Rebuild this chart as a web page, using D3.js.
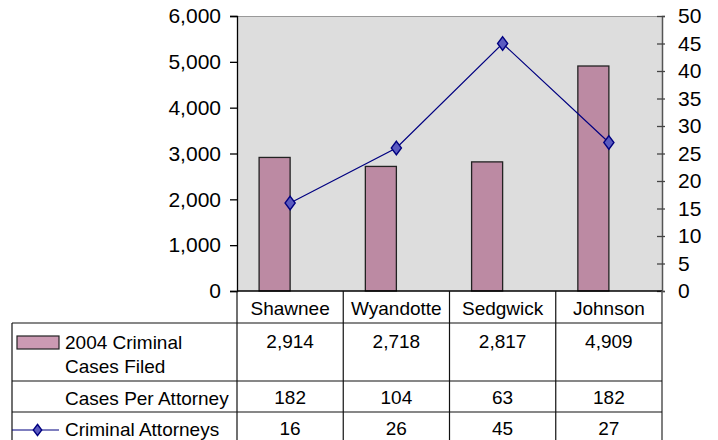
<!DOCTYPE html>
<html><head><meta charset="utf-8">
<script src="https://cdn.jsdelivr.net/npm/d3@7"></script>
<style>body{margin:0;background:#fff}svg{display:block}text{font-family:"Liberation Sans",Arial,sans-serif;fill:#000}</style>
</head><body>
<svg id="c" width="718" height="440"></svg>
<script>
const categories = ["Shawnee","Wyandotte","Sedgwick","Johnson"];
const casesFiled = [2914,2718,2817,4909];
const casesPerAttorney = [182,104,63,182];
const criminalAttorneys = [16,26,45,27];
const leftTicks = [0,1000,2000,3000,4000,5000,6000];
const rightTicks = [0,5,10,15,20,25,30,35,40,45,50];
const seriesNames = [["2004 Criminal","Cases Filed"],["Cases Per Attorney"],["Criminal Attorneys"]];

const svg = d3.select("#c");
const L=237,R=662,T=16,B=291;
const x = d3.scaleBand().domain(categories).range([L,R]).padding(0);
const yL = d3.scaleLinear().domain([0,6000]).range([B,T]);
const yR = d3.scaleLinear().domain([0,50]).range([B,T]);
const fmt = d3.format(",");

svg.append("rect").attr("x",L).attr("y",T).attr("width",R-L).attr("height",B-T).attr("fill","#dddddd");
svg.append("line").attr("x1",L).attr("x2",R).attr("y1",T+0.5).attr("y2",T+0.5).attr("stroke","#999").attr("stroke-width",1);

// bars
const bw = x.bandwidth()*0.292;
svg.append("g").selectAll("rect").data(categories).join("rect")
  .attr("x",(d)=>x(d)+x.bandwidth()/2-bw)
  .attr("y",(d,i)=>yL(casesFiled[i]))
  .attr("width",bw)
  .attr("height",(d,i)=>B-yL(casesFiled[i]))
  .attr("fill","#bc8aa3").attr("stroke","#222").attr("stroke-width",1.3);

// left axis
const gl = svg.append("g").attr("transform",`translate(${L},0)`)
  .call(d3.axisLeft(yL).tickValues(leftTicks).tickFormat(fmt).tickSize(7).tickPadding(9));
gl.select(".domain").attr("stroke","#000").attr("stroke-width",1.3);
gl.selectAll(".tick line").attr("stroke","#000").attr("stroke-width",1.3);
gl.selectAll("text").attr("font-size","21px").attr("fill","#000").attr("font-family","Liberation Sans, Arial, sans-serif");

// right axis
const gr = svg.append("g").attr("transform",`translate(${R},0)`)
  .call(d3.axisRight(yR).tickValues(rightTicks).tickSize(3).tickPadding(13));
gr.select(".domain").attr("stroke","#555").attr("stroke-width",1.5);
gr.selectAll(".tick line").attr("x1",-5).attr("stroke","#444").attr("stroke-width",1.3);
gr.selectAll("text").attr("font-size","21px").attr("fill","#000").attr("font-family","Liberation Sans, Arial, sans-serif");

// line
const cx = d=>x(d)+x.bandwidth()/2;
const line = d3.line().x((d,i)=>cx(categories[i])).y(d=>yR(d));
svg.append("path").datum(criminalAttorneys).attr("d",line).attr("fill","none").attr("stroke","#000080").attr("stroke-width",1.2);
const diamond = d3.symbol().type(d3.symbolDiamond).size(52);
svg.append("g").selectAll("path").data(criminalAttorneys).join("path")
  .attr("d",diamond)
  .attr("transform",(d,i)=>`translate(${cx(categories[i])},${yR(d)}) scale(1.3,1)`)
  .attr("fill","#5a5ac0").attr("stroke","#000080").attr("stroke-width",1.2);

// bottom axis line
svg.append("line").attr("x1",L).attr("x2",R).attr("y1",B).attr("y2",B).attr("stroke","#000").attr("stroke-width",1.3);

// data table
const rows = [323, 381, 412, 446];
const tg = svg.append("g").attr("stroke","#111").attr("stroke-width",1.2);
const bounds = categories.map(c=>x(c)).concat([R]);
bounds.forEach((bx,i)=>{
  tg.append("line").attr("x1",bx).attr("x2",bx).attr("y1",B).attr("y2",440)
   .attr("stroke", i===bounds.length-1?"#555":"#111").attr("stroke-width", i===bounds.length-1?1.5:1.2);
});
tg.append("line").attr("x1",12).attr("x2",12).attr("y1",rows[0]).attr("y2",440);
rows.slice(0,3).forEach(ry=>{
  tg.append("line").attr("x1",12).attr("x2",R).attr("y1",ry).attr("y2",ry);
});

const tfs = "19px";
svg.append("g").selectAll("text").data(categories).join("text")
  .attr("x",d=>cx(d)).attr("y",308).attr("dy","0.35em").attr("text-anchor","middle").attr("font-size",tfs).text(d=>d);

const rowY = [341, 397, 428];
[casesFiled, casesPerAttorney, criminalAttorneys].forEach((arr,r)=>{
  svg.append("g").selectAll("text").data(arr).join("text")
    .attr("x",(d,i)=>cx(categories[i])).attr("y",rowY[r]).attr("dy","0.35em")
    .attr("text-anchor","middle").attr("font-size",tfs).text(d=>fmt(d));
});

const labelY = [[342,366],[398],[429]];
seriesNames.forEach((lines,r)=>{
  lines.forEach((t,k)=>{
    svg.append("text").attr("x",65).attr("y",labelY[r][k]).attr("dy","0.35em").attr("font-size",tfs).text(t);
  });
});
// legend keys
svg.append("rect").attr("x",17).attr("y",336).attr("width",42).attr("height",13)
  .attr("fill","#cc9ab3").attr("stroke","#222").attr("stroke-width",1.2);
svg.append("line").attr("x1",12).attr("x2",59).attr("y1",430).attr("y2",430).attr("stroke","#000080").attr("stroke-width",1.2);
svg.append("path").attr("d",d3.symbol().type(d3.symbolDiamond).size(36)).attr("transform","translate(37.5,430) scale(1.3,1)")
  .attr("fill","#5a5ac0").attr("stroke","#000080").attr("stroke-width",1.2);
</script>
</body></html>
